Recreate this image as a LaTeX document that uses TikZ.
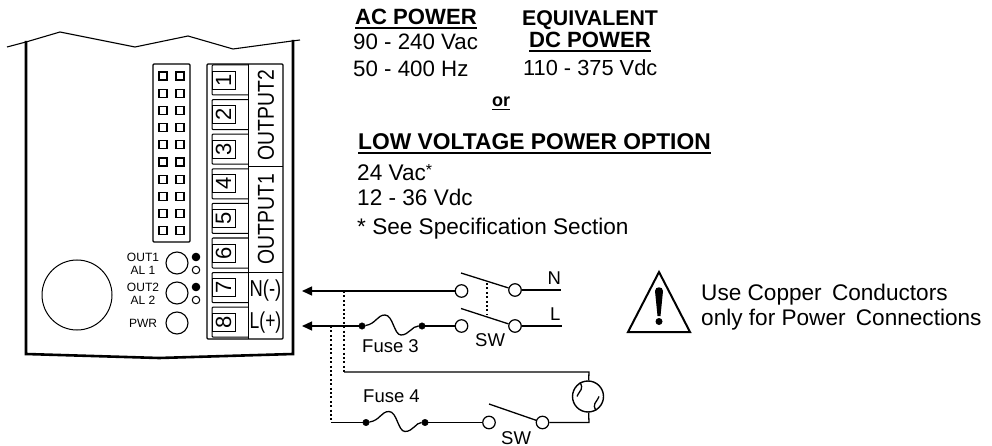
\documentclass[tikz,border=0pt]{standalone}
\usepackage{fontspec}
\setmainfont{Liberation Sans}
\usepackage{tikz}
\usetikzlibrary{calc,arrows.meta}
\tikzstyle{wire}=[line width=1.3pt]
\tikzstyle{wall}=[line width=2.6pt]
\tikzstyle{link}=[line width=1.3pt, dash pattern=on 2pt off 2.4pt]
\tikzstyle{term}=[draw, circle, line width=1.2pt, minimum size=12.5pt, inner sep=0pt]
\tikzstyle{fusedot}=[draw, circle, fill=black, minimum size=6.5pt, inner sep=0pt]
\tikzstyle{pin}=[draw, line width=1.1pt, minimum size=8pt, inner sep=0pt]
\tikzstyle{numbox}=[draw, line width=.9pt, rotate=90, minimum width=18pt, minimum height=23pt, inner sep=0pt, font=\fontsize{22}{24}\selectfont]
\tikzstyle{btn}=[draw, circle, line width=1.1pt, minimum size=22pt, inner sep=0pt]
\tikzstyle{led}=[draw, circle, line width=1pt, minimum size=7.5pt, inner sep=0pt]
\tikzstyle{txt}=[inner sep=0pt, anchor=base west, font=\fontsize{22.6}{24}\selectfont]
\tikzstyle{hdg}=[inner sep=0pt, anchor=base west, font=\fontsize{22.1}{24}\selectfont\bfseries]
\tikzstyle{fuselbl}=[inner sep=0pt, anchor=base west, font=\fontsize{18.5}{20}\selectfont]
\tikzstyle{ledlbl}=[inner sep=0pt, font=\fontsize{12}{14}\selectfont]
\tikzstyle{blocklbl}=[inner sep=0pt, font=\fontsize{23}{24}\selectfont]
\newcommand{\ulhead}[4][hdg]{
	\node[#1] (#2) at (#3) {#4};
	\draw[line width=1.3pt] ($(#2.base west)+(0,3)$) -- ($(#2.base east)+(0,3)$);
}
\newcommand{\fusewave}[2]{
	\draw[wire] (#1) .. controls ($(#1)+(14,-2)$) and ($(#1)+(15,-11)$) .. ($(#1)+(23,-11)$)
		.. controls ($(#1)+(31,-11)$) and ($(#1)+(32,9)$) .. ($(#1)+(39,9)$)
		.. controls ($(#1)+(47,9)$) and ($(#1)+(50,0)$) .. (#2);
}
\begin{document}
\begin{tikzpicture}[x=1pt,y=-1pt]
\useasboundingbox (0,0) rectangle (992,446);
% case
\draw[line width=1.1pt] (7,47) -- (26,42) -- (60,32) -- (135,47) -- (188,36) -- (233,49) -- (292,41) -- (300,40);
\draw[wall] (26,41) -- (26,354) -- (159,358) -- (293,354) -- (293,40);
% connector with pins
\draw[line width=1.1pt, rounded corners=1pt] (153,64) rectangle (190,242);
\foreach \r in {0,...,9} {
	\node[pin] (pina\r) at (163,76+17.2*\r) {};
	\node[pin] (pinb\r) at (180,76+17.2*\r) {};
}
% terminal block
\draw[line width=1.2pt, rounded corners=1pt] (207,64) rectangle (283,339);
\draw[line width=1pt] (248,64) -- (248,339);
\draw[line width=1pt] (248,167) -- (283,167);
\draw[line width=1pt] (248,272) -- (283,272);
\foreach \n in {1,...,8} {
	\pgfmathsetmacro{\c}{80+34.6*(\n-1)}
	\draw[line width=1pt, rounded corners=1pt] (248,\c-15) -- (212,\c-15) -- (212,\c+15) -- (248,\c+15);
	\node[numbox] (num\n) at (223.5,\c) {\n};
}
\node[blocklbl, rotate=90] (out2) at (266,115) {\scalebox{.84}[1]{OUTPUT2}};
\node[blocklbl, rotate=90] (out1) at (266,219) {\scalebox{.84}[1]{OUTPUT1}};
\node[blocklbl] (nterm) at (265.5,291) {\scalebox{.8}[1]{N(-)}};
\node[blocklbl] (lterm) at (265.5,323) {\scalebox{.76}[1]{L(+)}};
% front panel
\node[draw, circle, line width=1pt, minimum size=70pt, inner sep=0pt] (knob) at (77,295) {};
\node[btn] (btn1) at (177,263) {};
\node[btn] (btn2) at (177,293) {};
\node[btn] (btn3) at (177,323) {};
\node[led, fill=black] (led1) at (196,257) {};
\node[led] (led2) at (196,270) {};
\node[led, fill=black] (led3) at (196,287) {};
\node[led] (led4) at (196,300) {};
\node[ledlbl] (lblout1) at (143,257) {OUT1};
\node[ledlbl] (lblal1) at (143,270) {AL 1};
\node[ledlbl] (lblout2) at (143,287) {OUT2};
\node[ledlbl] (lblal2) at (143,300) {AL 2};
\node[ledlbl] (lblpwr) at (143,323) {PWR};
% power text
\ulhead{acp}{355,25}{AC POWER}
\node[txt, font=\fontsize{22.3}{24}\selectfont] (acv) at (353,50) {90 - 240 Vac};
\node[txt, font=\fontsize{22.3}{24}\selectfont] (ach) at (353,77) {50 - 400 Hz};
\node[hdg, font=\fontsize{21.3}{24}\selectfont\bfseries] (equiv) at (522,26) {EQUIVALENT};
\ulhead{dcp}{529,48}{DC POWER}
\node[txt, font=\fontsize{21.8}{24}\selectfont] (dcv) at (523,76) {110 - 375 Vdc};
\ulhead[hdg,font=\fontsize{18}{20}\selectfont\bfseries]{orl}{492,106.5}{or}
\ulhead[hdg,font=\fontsize{22.8}{24}\selectfont\bfseries]{lowv}{358,150}{LOW VOLTAGE POWER OPTION}
\node[txt] (lowa) at (357,181) {24 Vac\raisebox{5pt}{\fontsize{16}{16}\selectfont *}};
\node[txt] (lowd) at (357,206) {12 - 36 Vdc};
\node[txt] (lows) at (357,235) {* See Specification Section};
% wiring
\coordinate (tipn) at (302,291);
\coordinate (tipl) at (302,326);
\node[term] (swna) at (461.5,291) {};
\node[term] (swnb) at (515,290) {};
\node[term] (swla) at (461.5,326) {};
\node[term] (swlb) at (515,326) {};
\node[term] (swfa) at (489,422.5) {};
\node[term] (swfb) at (542.5,422.5) {};
\node[fusedot] (f3a) at (362,326) {};
\node[fusedot] (f3b) at (422,326) {};
\node[fusedot] (f4a) at (366,422.5) {};
\node[fusedot] (f4b) at (425,422.5) {};
\node[draw, circle, line width=1.4pt, minimum size=31pt, inner sep=0pt] (acs) at (588,396.5) {};
\coordinate (nend) at (561,290);
\coordinate (lend) at (562,326);
\coordinate (jn) at (344,291);
\coordinate (jl) at (331,326);
\coordinate (jc) at (344,372);
\coordinate (jf) at (331,422.5);
\coordinate (cc) at (589,372);
\coordinate (cf) at (589,422.5);
\coordinate (bln) at (461,273);
\coordinate (bll) at (461,308.5);
\coordinate (blf) at (489,404);
\coordinate (lka) at (487,283);
\coordinate (lkb) at (487,315);
\draw[wire, -{Triangle[length=10pt,width=9pt]}] (swna) -- (tipn);
\draw[wire, -{Triangle[length=10pt,width=9pt]}] (f3a) -- (tipl);
\draw[wire] (f3b) -- (swla);
\draw[wire] (swnb) -- (nend);
\draw[wire] (swlb) -- (lend);
\draw[wire] (bln) -- (swnb);
\draw[wire] (bll) -- (swlb);
\draw[wire] (blf) -- (swfb);
\draw[link] (lka) -- (lkb);
\draw[link] (jn) -- (jc);
\draw[link] (jl) -- (jf);
\draw[wire] (jc) -- (cc) -- (acs);
\draw[wire] (acs) -- (cf) -- (swfb);
\draw[wire] (jf) -- (f4a);
\draw[wire] (f4b) -- (swfa);
\fusewave{f3a}{f3b}
\fusewave{f4a}{f4b}
\draw[wire] ($(acs)+(-11,0)$) .. controls ($(acs)+(-8,-7)$) and ($(acs)+(-4,-7)$) .. (acs) .. controls ($(acs)+(4,7)$) and ($(acs)+(8,7)$) .. ($(acs)+(11,0)$);
\node[fuselbl] (nlbl) at (547.5,284) {N};
\node[fuselbl] (llbl) at (550,320) {L};
\node[fuselbl] (fuse3) at (362,352) {Fuse 3};
\node[fuselbl] (sw1) at (475,346) {SW};
\node[fuselbl] (fuse4) at (363,402) {Fuse 4};
\node[fuselbl] (sw2) at (501,444) {SW};
% warning
\draw[line width=2pt, line join=miter] (659,272) -- (690,332) -- (628,332) -- cycle;
\fill (655,291) .. controls (655,286) and (663,286) .. (663,291) -- (660.5,316) -- (657.5,316) -- cycle;
\fill (659,321.5) circle (3.5);
\node[txt] (warna) at (701,300) {Use Copper\hspace{4pt} Conductors};
\node[txt] (warnb) at (701,325) {only for Power\hspace{4pt} Connections};
\end{tikzpicture}
\end{document}
